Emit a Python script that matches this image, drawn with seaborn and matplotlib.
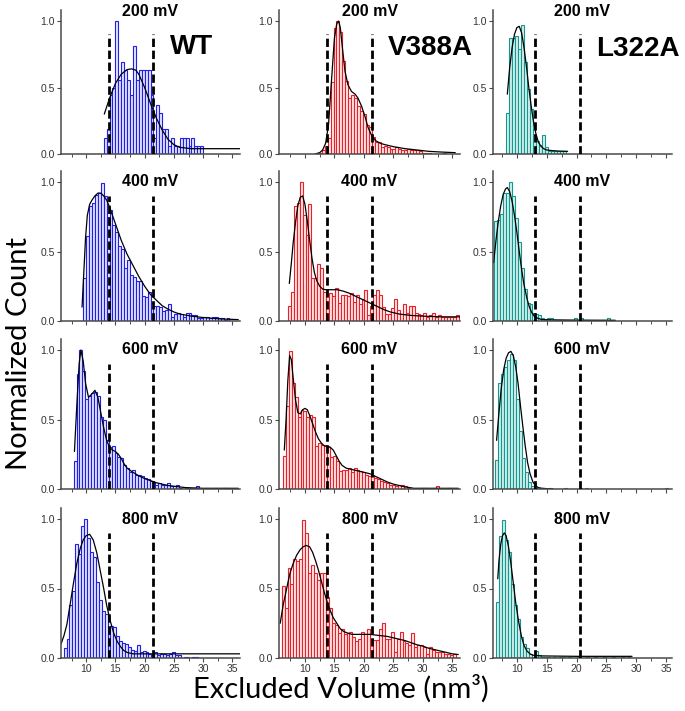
import numpy as np
import matplotlib
matplotlib.use("Agg")
import matplotlib.pyplot as plt
import matplotlib.transforms as mtransforms
import seaborn as sns

# ---------------- data ----------------
voltages = ["200 mV", "400 mV", "600 mV", "800 mV"]
strains = ["WT", "V388A", "L322A"]
bin_width = 0.5
x_ticks = [10, 15, 20, 25, 30, 35]
y_ticks = [0.0, 0.5, 1.0]
thresholds_wt = [13.9, 21.5]
thresholds_v388a = [13.8, 21.4]
thresholds_l322a = [13.1, 20.5]

# WT
wt_200_start = 13.25
wt_200_counts = [0.12, 0.19, 0.44, 0.50, 1.00, 0.56, 0.69, 0.63, 0.56, 0.44, 0.81, 0.56, 0.63, 0.63,
                 0.63, 0.63, 0.44, 0.12, 0.37, 0.31, 0.19, 0.19, 0.06, 0.12, 0.06, 0.06, 0.12, 0.12,
                 0.12, 0.06, 0.12, 0.06, 0.06, 0.06]
wt_200_fit_x = [13.1, 14.0, 15.0, 16.0, 17.0, 17.8, 18.5, 19.0, 20.0, 21.0, 22.0, 23.0, 24.0, 25.0,
                26.0, 27.0, 28.0, 36.4]
wt_200_fit_y = [0.30, 0.42, 0.53, 0.60, 0.635, 0.64, 0.63, 0.60, 0.50, 0.38, 0.27, 0.18, 0.11, 0.07,
                0.05, 0.045, 0.04, 0.04]

wt_400_start = 9.75
wt_400_counts = [0.31, 0.61, 0.83, 0.85, 0.91, 0.92, 0.99, 0.90, 0.75, 0.80, 0.69, 0.64, 0.54, 0.52,
                 0.38, 0.44, 0.33, 0.32, 0.29, 0.29, 0.18, 0.17, 0.21, 0.13, 0.11, 0.11, 0.10, 0.07,
                 0.08, 0.12, 0.03, 0.05, 0.06, 0.05, 0.03, 0.06, 0.06, 0.04, 0.04, 0.02, 0.02, 0.03,
                 0.03, 0.02, 0.03, 0.03, 0.02, 0.02, 0.01, 0.02]
wt_400_fit_x = [9.3, 9.6, 9.9, 10.2, 10.6, 11.0, 11.5, 12.0, 12.5, 13.0, 13.5, 14.0, 14.5, 15.0, 16.0,
                17.0, 18.0, 19.0, 20.0, 21.0, 22.0, 23.0, 24.0, 25.0, 26.0, 28.0, 30.0, 33.0, 36.0]
wt_400_fit_y = [0.10, 0.35, 0.60, 0.76, 0.84, 0.87, 0.90, 0.92, 0.92, 0.90, 0.87, 0.82, 0.76, 0.70,
                0.58, 0.48, 0.40, 0.32, 0.25, 0.19, 0.15, 0.11, 0.085, 0.065, 0.05, 0.035, 0.025,
                0.015, 0.01]

wt_600_start = 8.1
wt_600_counts = [0.20, 0.83, 1.00, 0.85, 0.65, 0.67, 0.69, 0.70, 0.67, 0.52, 0.50, 0.35, 0.30, 0.31,
                 0.26, 0.23, 0.22, 0.17, 0.15, 0.12, 0.14, 0.10, 0.10, 0.09, 0.08, 0.07, 0.06, 0.05,
                 0.03, 0.04, 0.03, 0.03, 0.04, 0.02, 0.02, 0.03, 0.01, 0.0, 0.01, 0.01, 0.01, 0.01,
                 0.02, 0.0, 0.0, 0.01, 0.0, 0.0, 0.01, 0.0, 0.0, 0.01, 0.01]
wt_600_fit_x = [8.0, 8.4, 8.8, 9.1, 9.5, 9.9, 10.4, 10.9, 11.5, 12.0, 12.5, 13.0, 13.5, 14.0, 14.5,
                15.0, 15.5, 16.0, 16.5, 17.0, 18.0, 19.0, 20.0, 21.0, 22.0, 23.0, 24.0, 25.0, 27.0,
                30.0, 36.0]
wt_600_fit_y = [0.27, 0.60, 0.90, 1.00, 0.92, 0.76, 0.66, 0.68, 0.71, 0.66, 0.55, 0.44, 0.35, 0.30,
                0.28, 0.27, 0.25, 0.22, 0.18, 0.15, 0.12, 0.095, 0.075, 0.06, 0.045, 0.035, 0.025,
                0.02, 0.01, 0.005, 0.005]

wt_800_start = 6.4
wt_800_counts = [0.07, 0.14, 0.38, 0.48, 0.82, 0.75, 0.95, 1.00, 0.86, 0.76, 0.73, 0.55, 0.42, 0.34,
                 0.32, 0.17, 0.23, 0.22, 0.16, 0.12, 0.11, 0.10, 0.08, 0.06, 0.05, 0.09, 0.04, 0.05,
                 0.04, 0.03, 0.02, 0.04, 0.02, 0.03, 0.03, 0.02, 0.03, 0.04, 0.02, 0.02, 0.0, 0.01,
                 0.01, 0.0, 0.01, 0.01]
wt_800_fit_x = [5.7, 6.2, 6.7, 7.2, 7.8, 8.4, 9.0, 9.5, 10.0, 10.6, 11.2, 11.8, 12.4, 13.0, 13.5,
                14.1, 14.7, 15.3, 15.9, 16.4, 17.0, 18.0, 20.0, 36.3]
wt_800_fit_y = [0.10, 0.16, 0.24, 0.37, 0.53, 0.68, 0.79, 0.85, 0.88, 0.89, 0.85, 0.76, 0.63, 0.50,
                0.38, 0.27, 0.18, 0.12, 0.08, 0.055, 0.04, 0.03, 0.03, 0.03]

# V388A
v388a_200_start = 12.1
v388a_200_counts = [0.01, 0.01, 0.03, 0.06, 0.12, 0.54, 0.95, 1.00, 0.92, 0.70, 0.55, 0.42, 0.44,
                    0.42, 0.36, 0.32, 0.30, 0.22, 0.20, 0.13, 0.09, 0.09, 0.05, 0.06, 0.05, 0.04,
                    0.04, 0.05, 0.04, 0.03, 0.03, 0.04, 0.03, 0.03, 0.03, 0.02, 0.01, 0.01, 0.01,
                    0.0, 0.0, 0.0, 0.0, 0.01]
v388a_200_fit_x = [11.7, 12.5, 13.0, 13.5, 14.0, 14.5, 15.0, 15.4, 15.7, 16.0, 16.4, 16.8, 17.3,
                   17.9, 18.5, 19.0, 19.6, 20.2, 20.7, 21.3, 22.0, 22.8, 23.6, 25.0, 27.0, 29.0,
                   31.0, 33.0, 35.5]
v388a_200_fit_y = [0.0, 0.01, 0.03, 0.08, 0.22, 0.55, 0.87, 0.98, 1.0, 0.95, 0.78, 0.62, 0.52, 0.47,
                   0.45, 0.42, 0.36, 0.28, 0.20, 0.14, 0.10, 0.08, 0.07, 0.055, 0.04, 0.03, 0.02,
                   0.015, 0.01]

v388a_400_start = 7.35
v388a_400_counts = [0.11, 0.21, 0.83, 0.85, 1.00, 0.76, 0.62, 0.84, 0.31, 0.31, 0.41, 0.38, 0.21,
                    0.19, 0.20, 0.18, 0.24, 0.13, 0.19, 0.19, 0.18, 0.20, 0.14, 0.19, 0.12, 0.16,
                    0.22, 0.04, 0.11, 0.19, 0.22, 0.19, 0.10, 0.05, 0.05, 0.09, 0.16, 0.08, 0.05,
                    0.12, 0.06, 0.11, 0.11, 0.06, 0.05, 0.04, 0.06, 0.03, 0.04, 0.06, 0.03, 0.04,
                    0.03, 0.03, 0.03, 0.03, 0.03, 0.04]
v388a_400_fit_x = [7.35, 7.7, 8.0, 8.4, 8.8, 9.2, 9.6, 10.0, 10.4, 10.8, 11.2, 11.6, 12.0, 12.5,
                   13.0, 13.5, 14.5, 15.5, 16.5, 17.5, 18.5, 19.5, 20.5, 21.5, 22.5, 23.5, 24.5,
                   26.0, 28.0, 30.0, 33.0, 36.3]
v388a_400_fit_y = [0.27, 0.42, 0.56, 0.71, 0.83, 0.89, 0.90, 0.84, 0.72, 0.58, 0.45, 0.35, 0.29,
                   0.25, 0.23, 0.225, 0.225, 0.225, 0.215, 0.20, 0.18, 0.16, 0.14, 0.12, 0.10, 0.08,
                   0.065, 0.05, 0.04, 0.035, 0.03, 0.03]

v388a_600_start = 6.5
v388a_600_counts = [0.24, 0.60, 0.99, 0.76, 0.66, 0.52, 0.57, 0.56, 0.52, 0.53, 0.52, 0.31, 0.33,
                    0.32, 0.31, 0.30, 0.23, 0.24, 0.20, 0.13, 0.14, 0.14, 0.15, 0.12, 0.15, 0.14,
                    0.13, 0.12, 0.10, 0.09, 0.09, 0.08, 0.07, 0.06, 0.05, 0.04, 0.03, 0.03, 0.02,
                    0.03, 0.03, 0.02, 0.01, 0.0, 0.0, 0.0, 0.01, 0.01, 0.01, 0.0, 0.0, 0.01, 0.02,
                    0.0, 0.0, 0.0, 0.01]
v388a_600_fit_x = [6.5, 6.8, 7.1, 7.4, 7.7, 8.0, 8.4, 8.8, 9.2, 9.6, 10.0, 10.4, 10.8, 11.3, 11.8,
                   12.3, 12.8, 13.3, 13.8, 14.3, 14.8, 15.3, 15.8, 16.3, 17.0, 18.0, 19.0, 20.0,
                   21.0, 22.0, 23.0, 24.0, 25.0, 26.0, 27.0, 28.5, 36.0]
v388a_600_fit_y = [0.28, 0.50, 0.78, 0.96, 0.93, 0.80, 0.64, 0.55, 0.54, 0.57, 0.58, 0.57, 0.53,
                   0.47, 0.41, 0.36, 0.33, 0.31, 0.31, 0.30, 0.28, 0.24, 0.20, 0.17, 0.15, 0.14,
                   0.13, 0.12, 0.11, 0.09, 0.07, 0.05, 0.035, 0.025, 0.015, 0.005, 0.005]

v388a_800_start = 6.3
v388a_800_counts = [0.52, 0.36, 0.65, 0.53, 0.71, 0.70, 0.71, 0.99, 0.90, 0.61, 0.67, 0.61, 0.56,
                    0.61, 0.61, 0.44, 0.36, 0.25, 0.24, 0.18, 0.21, 0.17, 0.18, 0.19, 0.15, 0.12,
                    0.14, 0.19, 0.17, 0.21, 0.14, 0.13, 0.13, 0.21, 0.25, 0.14, 0.14, 0.19, 0.04,
                    0.14, 0.19, 0.12, 0.11, 0.09, 0.18, 0.08, 0.09, 0.09, 0.08, 0.03, 0.08, 0.06,
                    0.04, 0.04, 0.04, 0.03, 0.03, 0.02, 0.03]
v388a_800_fit_x = [5.8, 6.3, 6.9, 7.4, 8.0, 8.6, 9.2, 9.7, 10.2, 10.8, 11.3, 11.8, 12.3, 12.8,
                   13.3, 13.8, 14.3, 14.8, 15.4, 16.0, 16.6, 17.2, 18.0, 19.0, 20.0, 21.0, 22.0,
                   23.0, 24.0, 25.0, 26.0, 27.0, 28.0, 29.0, 30.0, 31.0, 32.0, 33.0, 34.0, 35.0,
                   36.0]
v388a_800_fit_y = [0.25, 0.38, 0.50, 0.60, 0.68, 0.74, 0.78, 0.80, 0.81, 0.80, 0.76, 0.70, 0.63,
                   0.55, 0.47, 0.40, 0.34, 0.29, 0.25, 0.21, 0.19, 0.18, 0.17, 0.17, 0.17, 0.17,
                   0.165, 0.16, 0.155, 0.145, 0.135, 0.125, 0.11, 0.095, 0.085, 0.07, 0.06, 0.05,
                   0.04, 0.03, 0.025]

# L322A
l322a_200_start = 8.45
l322a_200_counts = [0.31, 0.87, 0.87, 0.89, 0.79, 0.97, 0.69, 0.49, 0.34, 0.14, 0.10, 0.07, 0.14,
                    0.05, 0.02, 0.02, 0.02, 0.02, 0.02, 0.02]
l322a_200_fit_x = [8.4, 8.8, 9.2, 9.6, 10.0, 10.4, 10.8, 11.2, 11.6, 12.0, 12.4, 12.8, 13.2, 13.6,
                   14.0, 14.5, 15.0, 16.0, 17.0, 18.5]
l322a_200_fit_y = [0.45, 0.65, 0.80, 0.90, 0.95, 0.96, 0.91, 0.80, 0.66, 0.50, 0.36, 0.24, 0.15,
                   0.09, 0.06, 0.04, 0.03, 0.025, 0.022, 0.02]

l322a_400_start = 6.37
l322a_400_counts = [0.72, 0.73, 0.77, 0.92, 0.92, 1.00, 0.90, 0.74, 0.57, 0.38, 0.23, 0.13, 0.12,
                    0.06, 0.05, 0.04, 0.02, 0.01, 0.02, 0.02, 0.01, 0.01, 0.01, 0.01, 0.01, 0.01,
                    0.01, 0.02, 0.01, 0.02, 0.01, 0.01, 0.01, 0.01, 0.01, 0.01, 0.01, 0.01, 0.02,
                    0.01]
l322a_400_fit_x = [6.1, 6.5, 6.9, 7.3, 7.7, 8.1, 8.4, 8.8, 9.2, 9.6, 10.0, 10.4, 10.8, 11.2, 11.7,
                   12.1, 12.5, 13.0, 13.5, 14.2, 16.0, 20.0, 26.5]
l322a_400_fit_y = [0.42, 0.58, 0.72, 0.83, 0.91, 0.95, 0.96, 0.93, 0.86, 0.76, 0.64, 0.50, 0.37,
                   0.26, 0.16, 0.10, 0.06, 0.03, 0.02, 0.01, 0.008, 0.006, 0.005]

l322a_600_start = 6.6
l322a_600_counts = [0.21, 0.76, 0.83, 0.88, 0.93, 0.97, 0.93, 0.65, 0.42, 0.22, 0.12, 0.05, 0.02,
                    0.01, 0.01, 0.01, 0.0, 0.0, 0.01, 0.0, 0.0, 0.0, 0.0, 0.01, 0.0, 0.0, 0.0, 0.0,
                    0.01, 0.0, 0.01, 0.0, 0.0, 0.0, 0.0, 0.0, 0.0, 0.0, 0.0, 0.0, 0.0, 0.0, 0.0,
                    0.0, 0.0, 0.0, 0.0, 0.0, 0.0, 0.0, 0.0, 0.0, 0.0, 0.0, 0.0, 0.0, 0.0, 0.01]
l322a_600_fit_x = [6.6, 7.0, 7.4, 7.8, 8.2, 8.6, 9.0, 9.4, 9.8, 10.2, 10.6, 11.0, 11.4, 11.8, 12.2,
                   12.7, 13.1, 13.6, 14.2, 16.0]
l322a_600_fit_y = [0.35, 0.55, 0.73, 0.86, 0.94, 0.98, 0.99, 0.96, 0.88, 0.76, 0.60, 0.45, 0.31,
                   0.19, 0.11, 0.05, 0.025, 0.01, 0.005, 0.0]

l322a_800_start = 6.76
l322a_800_counts = [0.40, 0.88, 0.99, 0.85, 0.76, 0.53, 0.38, 0.28, 0.15, 0.10, 0.07, 0.03, 0.01,
                    0.05, 0.02, 0.01, 0.01, 0.01, 0.0, 0.01, 0.0, 0.01, 0.01, 0.0, 0.01, 0.0, 0.0,
                    0.01, 0.0, 0.0, 0.01, 0.0, 0.0, 0.01, 0.0, 0.0, 0.01, 0.0, 0.0, 0.01, 0.0, 0.0,
                    0.01, 0.0, 0.01]
l322a_800_fit_x = [6.8, 7.0, 7.3, 7.6, 7.9, 8.2, 8.6, 9.0, 9.4, 9.8, 10.3, 10.8, 11.2, 11.7, 12.2,
                   12.7, 14.0, 20.0, 29.3]
l322a_800_fit_y = [0.57, 0.70, 0.82, 0.88, 0.90, 0.88, 0.80, 0.68, 0.54, 0.40, 0.26, 0.15, 0.09,
                   0.05, 0.03, 0.02, 0.015, 0.012, 0.012]

panels = [
    [(wt_200_start, wt_200_counts, wt_200_fit_x, wt_200_fit_y),
     (v388a_200_start, v388a_200_counts, v388a_200_fit_x, v388a_200_fit_y),
     (l322a_200_start, l322a_200_counts, l322a_200_fit_x, l322a_200_fit_y)],
    [(wt_400_start, wt_400_counts, wt_400_fit_x, wt_400_fit_y),
     (v388a_400_start, v388a_400_counts, v388a_400_fit_x, v388a_400_fit_y),
     (l322a_400_start, l322a_400_counts, l322a_400_fit_x, l322a_400_fit_y)],
    [(wt_600_start, wt_600_counts, wt_600_fit_x, wt_600_fit_y),
     (v388a_600_start, v388a_600_counts, v388a_600_fit_x, v388a_600_fit_y),
     (l322a_600_start, l322a_600_counts, l322a_600_fit_x, l322a_600_fit_y)],
    [(wt_800_start, wt_800_counts, wt_800_fit_x, wt_800_fit_y),
     (v388a_800_start, v388a_800_counts, v388a_800_fit_x, v388a_800_fit_y),
     (l322a_800_start, l322a_800_counts, l322a_800_fit_x, l322a_800_fit_y)],
]
thresholds = [thresholds_wt, thresholds_v388a, thresholds_l322a]

# ---------------- styling / layout ----------------
sns.set_theme(style="ticks")
plt.rcParams["font.family"] = ["Liberation Sans", "DejaVu Sans"]

edge_colors = ["#1f1fe6", "#e8202a", "#169690"]
face_colors = ["#e4e4ff", "#ffe6e6", "#d2f2ee"]
axis_gray = "#4a4a4a"

W, H = 685, 711
col_px = [(61, 240), (279, 460), (493, 672)]
row_px = [(21, 154), (182, 321), (350, 489), (519, 658)]   # pixel y of 1.0 and 0.0
xlims = [(5.7, 36.3), (5.6, 36.3), (6.0, 36.0)]
YTOP = 1.08

fig = plt.figure(figsize=(W / 100, H / 100), dpi=100)

for r in range(4):
    for c in range(3):
        start, counts, fx, fy = panels[r][c]
        x0, x1 = col_px[c]
        y1, y0 = row_px[r]
        unit = y0 - y1
        top = y1 - (YTOP - 1.0) * unit
        ax = fig.add_axes([x0 / W, 1 - y0 / H, (x1 - x0) / W, (y0 - top) / H])

        centers = start + bin_width * np.arange(len(counts))
        sns.histplot(x=centers, weights=counts, binwidth=bin_width,
                     binrange=(centers[0] - bin_width / 2, centers[-1] + bin_width / 2),
                     ax=ax, facecolor=face_colors[c], edgecolor=edge_colors[c],
                     linewidth=0.8, alpha=1)
        sns.lineplot(x=fx, y=fy, ax=ax, color="black", linewidth=0.9,
                     estimator=None, sort=False)
        ax.vlines(thresholds[c], 0, 0.9, colors="black", linewidth=2.0,
                  linestyles=(0, (3, 1.3)), zorder=5)

        ax.set_xlim(*xlims[c])
        ax.set_ylim(0, YTOP)
        ax.set_xlabel("")
        ax.set_ylabel("")
        ax.set_xticks(x_ticks)
        ax.set_xticks([t - 2.5 for t in x_ticks], minor=True)
        ax.set_yticks(y_ticks)
        ax.set_yticklabels([f"{v:.1f}" for v in y_ticks])
        if r < 3:
            ax.set_xticklabels([])
        sns.despine(ax=ax)
        for s in ("left", "bottom"):
            ax.spines[s].set_color(axis_gray)
            ax.spines[s].set_linewidth(1.1)
        ax.tick_params(axis="both", which="major", direction="out", length=3, width=0.8,
                       color=axis_gray, labelsize=7.5, labelcolor="#333333", pad=1.5)
        ax.tick_params(axis="x", which="minor", direction="out", length=2, width=0.7,
                       color=axis_gray)

        ty = 1.07 if r == 0 else 1.0
        trans = mtransforms.blended_transform_factory(ax.transAxes, ax.transData)
        ax.text(0.5, ty, voltages[r], transform=trans, ha="center", va="center",
                fontsize=11.5, fontweight="bold", color="black", zorder=6)

# strain labels
label_pos = [(192, 47), (430, 48), (638, 49)]
for name, (px, py) in zip(strains, label_pos):
    fig.text(px / W, 1 - py / H, name, ha="center", va="center",
             fontsize=20, fontweight="bold", color="black")

fig.text(19 / W, 1 - 353 / H, "Normalized Count", rotation=90, ha="center", va="center",
         fontsize=21, family=["Lato", "DejaVu Sans"], color="black")
fig.text(341 / W, 1 - 689 / H, "Excluded Volume (nm³)", ha="center", va="center",
         fontsize=21, family=["Lato", "DejaVu Sans"], color="black")

fig.savefig("out.png", dpi=100)
